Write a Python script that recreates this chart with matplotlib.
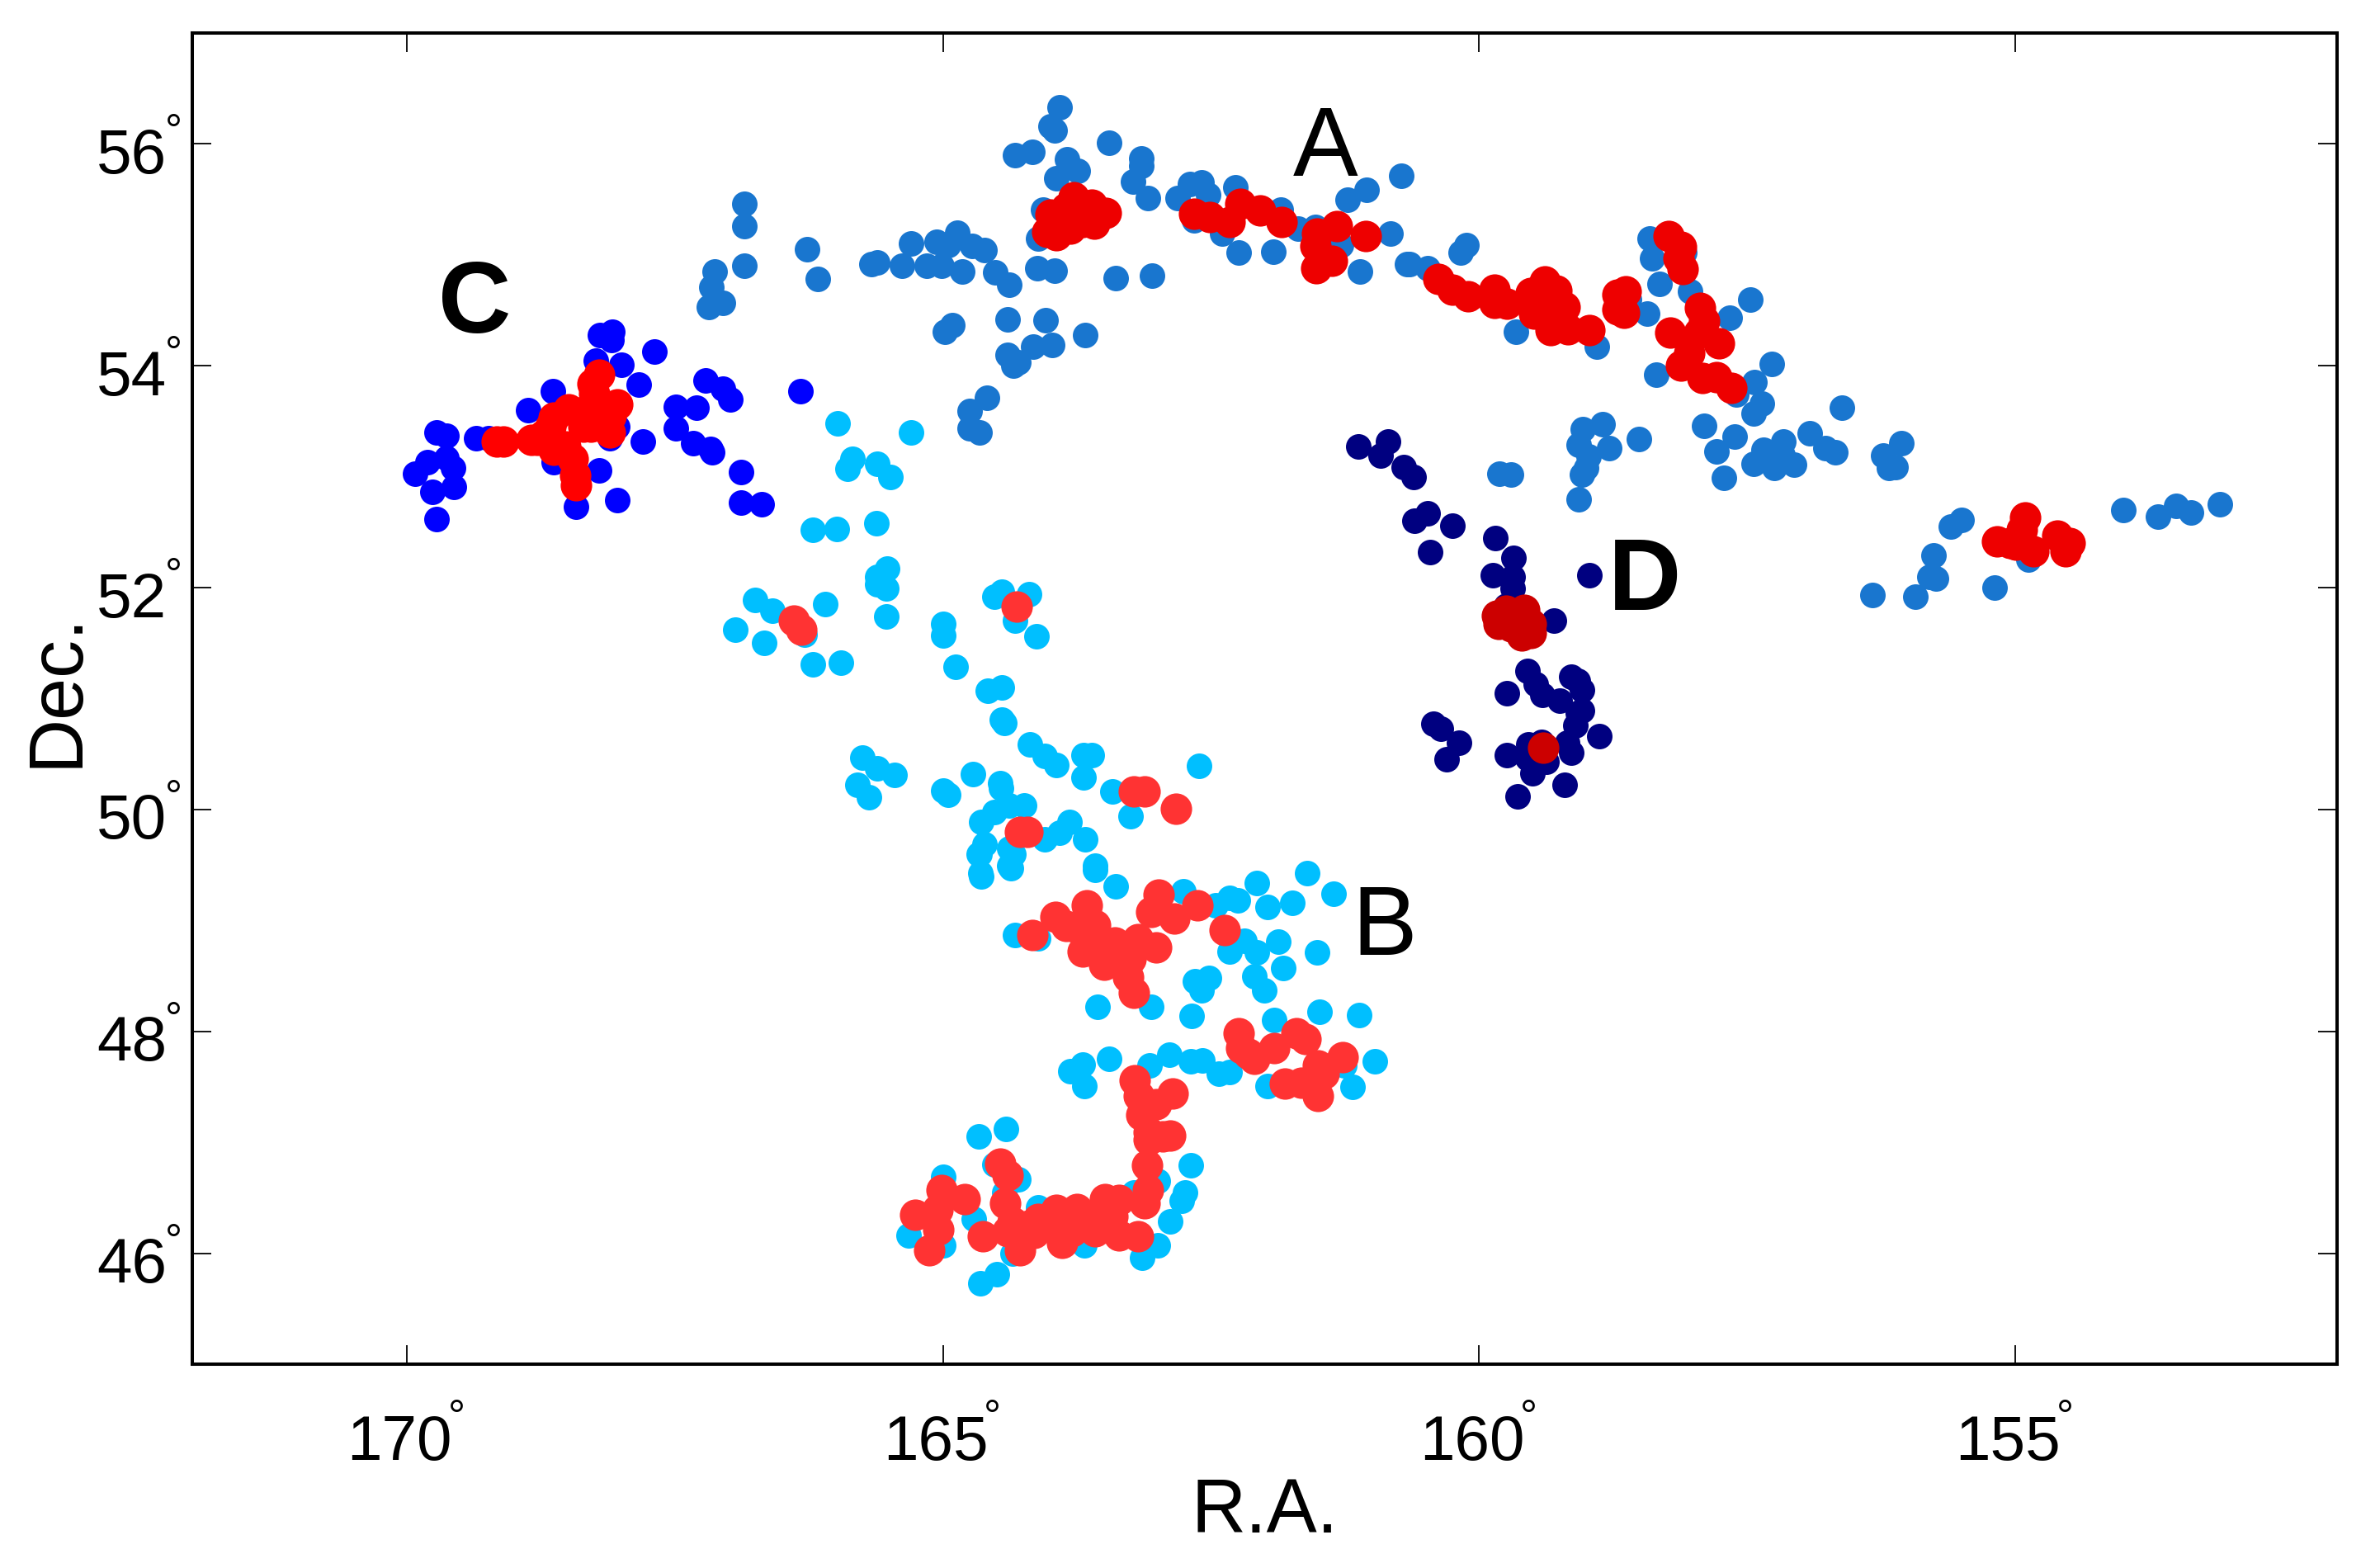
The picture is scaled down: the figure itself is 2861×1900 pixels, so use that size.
import matplotlib
matplotlib.use("Agg")
import matplotlib.pyplot as plt
from matplotlib.transforms import ScaledTranslation

plt.rcParams['font.family'] = ['Liberation Sans', 'DejaVu Sans']

xticks = [170, 165, 160, 155]
yticks = [46, 48, 50, 52, 54, 56]

a_ra = [166.85,166.85,166.85,167.13,167.16,167.05,167.18,166.27,166.17,165.67,165.61,165.38,165.30,165.15,165.06,165.01,164.87,164.95,164.82,164.73,164.61,164.51,164.38,164.98,164.91,164.40,164.04,163.67,163.98,164.16,164.40,164.34,164.30,164.59,164.75,164.75,164.66,
        163.91,164.0,163.96,164.33,164.17,163.84,163.74,163.94,163.45,163.15,163.15,163.23,163.09,162.81,162.70,162.59,162.53,162.27,164.07,164.11,162.66,162.40,162.24,161.92,161.85,161.69,161.53,161.29,161.11,163.39,163.05,164.12,163.96,161.23,161.05,160.73,160.83,160.67,
        160.65,160.48,160.17,160.12,159.66,158.90,158.41,158.39,158.32,158.03,158.43,158.6,157.66,157.47,158.35,158.09,157.27,157.43,157.36,157.44,157.60,156.62,157.90,157.62,157.79,157.72,156.92,157.16,157.35,156.77,156.68,157.44,157.25,157.06,157.17,156.06,156.23,156.18,156.12,
        159.03,158.85,158.51,159.07,158.79,158.98,159.0,159.04,159.07,159.81,159.70,155.50,155.60,155.76,155.74,155.80,155.19,156.33,155.93,154.88,153.99,153.67,153.50,153.36,153.09]
a_dec = [55.46,55.26,54.90,54.85,54.71,54.57,54.53,55.05,54.78,54.92,54.93,54.90,55.10,54.90,55.12,54.90,55.20,55.09,54.85,55.08,55.04,54.84,54.73,54.31,54.37,54.42,54.41,54.28,54.19,54.17,54.10,54.00,54.03,53.71,53.59,53.44,53.40,
         56.33,56.16,56.12,55.90,55.93,55.86,55.76,55.69,56.01,55.87,55.80,55.66,55.51,55.51,55.64,55.65,55.54,55.61,55.41,55.15,55.31,55.19,55.02,55.03,55.41,55.24,55.25,55.09,54.85,54.79,54.81,54.88,54.86,55.50,55.59,55.71,55.19,54.92,
         54.92,54.88,55.02,55.09,54.31,54.17,55.15,54.97,54.74,54.67,54.47,54.6,54.43,54.60,53.92,55.02,54.02,53.85,53.66,53.57,53.74,53.62,53.46,53.36,53.23,52.99,53.39,53.32,53.24,53.26,53.22,53.12,53.08,53.11,53.2,53.30,53.19,53.08,53.09,
         53.43,53.47,53.34,53.29,53.26,53.18,53.08,53.02,52.80,53.03,53.02,52.61,52.55,52.29,52.08,52.10,52.00,51.93,51.92,52.25,52.70,52.64,52.74,52.68,52.75]

a_red_ra = [164.0,164.03,163.94,163.78,163.76,163.81,163.61,163.48,163.59,162.66,162.51,162.33,162.23,162.04,161.84,161.33,161.51,161.53,161.37,161.52,161.06,
            160.38,160.25,160.10,159.86,159.86,159.74,159.52,159.39,159.28,159.49,159.20,159.33,159.17,158.97,158.71,158.63,158.71,158.65,158.23,158.12,158.10,157.94,157.90,158.22,157.76,158.04,158.12,157.92,157.79,157.65,
            154.91,155.17,154.83,154.61,154.49,154.53,154.99,154.94,
            163.90,163.70,163.85,163.65,163.95,159.45,159.40,159.35,159.25,159.30,158.68,158.14,157.95,155.05,154.95]
a_red_dec = [55.36,55.21,55.18,55.52,55.34,55.24,55.45,55.38,55.28,55.37,55.34,55.30,55.46,55.40,55.30,55.26,55.19,55.08,54.95,54.88,55.17,
             54.78,54.69,54.63,54.69,54.57,54.56,54.66,54.76,54.68,54.47,54.53,54.32,54.33,54.32,54.64,54.67,54.51,54.48,55.17,55.07,54.87,54.52,54.40,54.30,54.2,54.11,54.0,53.89,53.90,53.80,
             52.63,52.42,52.33,52.47,52.40,52.33,52.39,52.52,
             55.30,55.30,55.42,55.36,55.26,54.60,54.55,54.45,54.42,54.58,54.58,54.97,54.30,52.40,52.45]

b_ra = [165.98,165.30,165.84,165.89,165.61,165.49,166.21,165.99,165.62,165.52,165.61,165.61,165.53,166.75,166.59,166.10,165.53,166.94,166.67,166.29,166.21,165.95,165.0,165.0,164.88,164.58,164.45,164.45,164.43,164.52,164.45,164.2,164.33,164.13,165.75,165.61,165.45,165.80,165.69,165.0,164.95,164.72,164.47,164.46,164.19,164.05,163.94,163.69,163.61,163.69,163.42,163.25,162.61,164.52,164.38,164.24,164.64,164.61,164.67,164.65,164.38,164.38,164.34,164.05,163.91,163.82,163.67,163.58,
        164.64,164.66,164.37,163.58,163.39,161.60,161.36,162.76,162.33,162.07,161.97,161.74,162.46,162.25,164.33,164.11,162.19,162.33,162.07,161.87,161.51,161.83,162.10,162.0,162.52,162.65,162.59,163.56,163.06,162.68,161.91,161.49,161.12,160.97,161.18,161.26,161.97,162.33,162.43,162.58,162.69,162.89,163.07,163.45,163.70,163.81,163.68,164.67,164.41,162.69,162.74,162.77,162.88,163.0,163.14,163.0,163.22,164.52,164.30,164.43,164.71,165.0,165.32,165.0,163.68,164.11,164.35,164.5,164.65]
b_dec = [53.48,53.40,53.16,53.07,53.12,53.0,52.52,52.53,52.58,52.17,52.10,52.03,51.99,51.89,51.79,51.85,51.74,51.62,51.50,51.58,51.31,51.32,51.67,51.57,51.29,51.07,51.10,50.81,50.78,51.92,51.96,51.94,51.70,51.56,50.47,50.37,50.31,50.22,50.11,50.17,50.13,50.32,50.24,50.19,50.59,50.48,50.40,50.49,50.49,50.29,50.16,49.94,50.39,49.98,50.04,50.04,49.89,49.69,49.60,49.43,49.49,49.65,49.6,49.73,49.79,49.89,49.73,49.49,
         49.40,49.60,49.47,49.46,49.31,49.43,49.24,49.26,49.20,49.34,49.12,49.16,49.14,49.18,48.87,48.84,48.82,48.72,48.71,48.81,48.71,48.57,48.50,48.37,48.48,48.45,48.37,48.22,48.22,48.14,48.10,48.18,48.15,47.73,47.50,47.69,47.51,47.63,47.62,47.74,47.73,47.79,47.69,47.75,47.70,47.64,47.51,47.05,47.12,46.79,46.55,46.47,46.29,46.07,45.96,46.65,46.55,46.80,46.67,46.55,46.31,46.69,46.16,46.07,46.07,46.41,46.0,45.81,45.73]

b_red_ra = [164.17,163.95,163.66,163.58,163.70,163.77,163.46,163.18,163.01,163.32,163.22,163.27,162.99,163.06,162.84,162.63,162.37,162.24,162.22,162.10,161.91,161.70,161.62,161.81,161.66,161.50,161.27,161.50,163.21,163.17,162.86,163.01,163.08,162.88,163.08,163.10,163.09,163.12,163.49,163.36,163.42,163.58,163.36,163.18,163.75,163.94,163.89,164.11,164.28,164.42,164.35,164.63,164.47,164.40,165.01,164.80,165.26,165.05,165.04,165.13,
            166.39,166.32,164.31,163.22,163.12,162.83,164.21,164.28,
            163.85,163.55,163.40,163.30,163.60,163.25,163.50,164.20,164.00,163.80,164.30,163.60,164.40,163.90,164.15,163.45,163.15,162.15,161.45,163.95,162.95]
b_red_dec = [48.87,49.03,49.14,48.96,48.72,48.94,48.69,48.83,48.76,48.59,48.35,48.49,49.23,49.08,49.02,49.14,48.91,47.98,47.85,47.75,47.85,47.98,47.93,47.53,47.54,47.69,47.77,47.42,47.56,47.42,47.44,47.34,47.09,47.06,47.02,46.79,46.57,46.45,46.49,46.48,46.33,46.20,46.16,46.15,46.40,46.39,46.09,46.31,46.03,46.45,46.28,46.15,46.81,46.70,46.57,46.49,46.35,46.39,46.21,46.03,
             51.70,51.62,51.83,50.16,50.16,50.01,49.80,49.80,
             48.95,48.80,48.80,48.75,48.85,48.65,48.60,46.25,46.25,46.20,46.20,46.30,46.20,46.30,46.18,46.30,47.25,47.80,47.62,46.22,47.05]

c_ra = [169.72,169.63,169.35,169.24,169.81,169.63,169.57,169.92,169.56,169.76,169.72,168.20,168.08,168.09,167.69,168.24,168.0,167.84,168.64,168.87,167.21,167.05,166.98,167.49,167.30,167.49,167.33,167.17,167.15,166.88,166.88,166.69,167.80,168.11,168.04,168.63,168.21,168.42,168.04,166.33]
c_dec = [53.40,53.37,53.35,53.35,53.13,53.17,53.08,53.03,52.91,52.86,52.62,54.28,54.31,54.23,54.13,54.05,54.01,53.83,53.77,53.60,53.87,53.79,53.70,53.63,53.62,53.44,53.30,53.25,53.22,53.04,52.77,52.75,53.32,53.35,53.45,53.13,53.06,52.73,52.79,53.77]

c_red_ra = [169.16,169.10,168.84,168.63,168.49,168.66,168.63,168.45,168.42,168.43,168.21,168.27,168.04,168.28,168.11,168.25,168.39,168.16,168.52,
            168.35,168.20,168.30,168.72,168.25,168.10,168.78]
c_red_dec = [53.32,53.32,53.33,53.53,53.61,53.45,53.24,53.16,52.92,53.01,53.92,53.84,53.65,53.45,53.40,53.65,53.58,53.55,53.27,
             53.45,53.50,53.55,53.38,53.75,53.55,53.33]

d_ra = [161.13,160.85,160.92,160.70,160.61,160.60,160.48,160.25,160.46,159.85,159.68,159.87,159.69,159.69,159.75,159.30,159.55,159.47,159.74,159.41,159.25,159.14,159.08,159.04,159.08,159.04,159.10,158.88,159.18,159.14,160.43,160.36,160.19,160.30,159.74,159.54,159.42,159.50,159.37,159.55,159.20,159.64,158.97]
d_dec = [53.27,53.32,53.19,53.09,53.0,52.60,52.67,52.56,52.32,52.45,52.27,52.11,52.10,51.99,51.84,51.70,51.25,51.13,51.05,51.03,50.98,51.20,51.16,51.08,50.87,50.89,50.76,50.66,50.60,50.51,50.77,50.73,50.60,50.45,50.49,50.59,50.61,50.33,50.43,50.46,50.22,50.12,52.11]

d_red_ra = [159.83,159.82,159.75,159.58,159.65,159.52,159.60,159.52,159.70,159.40]
d_red_dec = [51.75,51.67,51.79,51.80,51.69,51.67,51.57,51.59,51.65,50.56]

fig = plt.figure(figsize=(28.61, 19.0), dpi=100)
ax = fig.add_axes([233/2861, 1 - 1653/1900, (2832-233)/2861, (1653-40)/1900])

MS_BLUE = 22.3
MS_RED = 27.5
for ra, dec, col in [(a_ra, a_dec, '#1976CF'), (b_ra, b_dec, '#00BFFF'),
                     (c_ra, c_dec, '#0000FF'), (d_ra, d_dec, '#000080')]:
    ax.plot(ra, dec, 'o', ms=MS_BLUE, color=col, mec='none', zorder=2)
for ra, dec, col in [(a_red_ra, a_red_dec, '#EE0000'), (b_red_ra, b_red_dec, '#FF3333'),
                     (c_red_ra, c_red_dec, '#FF0000'), (d_red_ra, d_red_dec, '#CC0000')]:
    ax.plot(ra, dec, 'o', ms=MS_RED, color=col, mec='none', zorder=3)

ax.set_xlim(172, 152)
ax.set_ylim(45, 57)
ax.set_xticks(xticks)
ax.set_yticks(yticks)
ax.set_xticklabels([str(v) for v in xticks])
ax.set_yticklabels([str(v) for v in yticks])
ax.tick_params(axis='x', direction='in', top=True, length=16.5, width=1.3, labelsize=55, pad=44)
ax.tick_params(axis='y', direction='in', right=True, length=16.5, width=1.3, labelsize=55, pad=22)
for s in ax.spines.values():
    s.set_linewidth(2.9)

# digits sit off-centre from their ticks, as in the reference
for lab in ax.get_xticklabels():
    lab.set_transform(lab.get_transform() + ScaledTranslation(-9/100, 0, fig.dpi_scale_trans))
for lab in ax.get_yticklabels():
    lab.set_transform(lab.get_transform() + ScaledTranslation(0, -8/100, fig.dpi_scale_trans))

# raised degree signs
for v in xticks:
    ax.annotate('°', xy=(v, 0), xycoords=ax.get_xaxis_transform(),
                xytext=(60, -67), textcoords='offset pixels',
                fontsize=38, ha='center', va='center', annotation_clip=False)
for v in yticks:
    ax.annotate('°', xy=(0, v), xycoords=ax.get_yaxis_transform(),
                xytext=(-23, 12), textcoords='offset pixels',
                fontsize=38, ha='center', va='center', annotation_clip=False)

fig.text(0.5358, 1 - 1833/1900, 'R.A.', fontsize=66, ha='center', va='center')
fig.text(69/2861, 1 - 836/1900, 'Dec.', fontsize=66, rotation=90, ha='center', va='center')

ax.text(161.43, 55.94, 'A', fontsize=85, ha='center', va='center', zorder=4)
ax.text(160.88, 48.92, 'B', fontsize=85, ha='center', va='center', zorder=4)
ax.text(169.37, 54.54, 'C', fontsize=88, fontweight='bold', ha='center', va='center', zorder=4)
ax.text(158.46, 52.04, 'D', fontsize=88, fontweight='bold', ha='center', va='center', zorder=4)

fig.savefig('out.png', dpi=100)
